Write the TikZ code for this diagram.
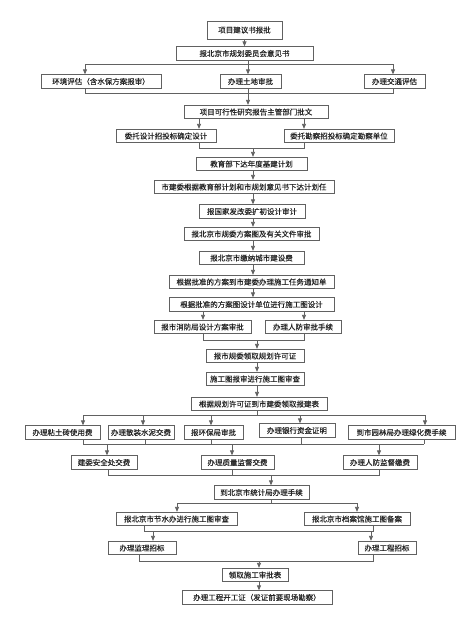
\documentclass[tikz,border=0pt]{standalone}
\usepackage{fontspec}
\newfontfamily\cjk[FakeBold=0.35]{Noto Sans CJK SC}
\usetikzlibrary{arrows.meta}
\begin{document}
\begin{tikzpicture}[x=1pt,y=-1pt,
  box/.style={draw=black!62, line width=0.8pt, fill=white, inner sep=0pt,
    minimum height=13.5pt, font=\cjk\fontsize{7.5}{8}\selectfont, text=black!85},
  ln/.style={draw=black!62, line width=0.8pt},
  arr/.style={ln, -{Triangle[width=4pt,length=5pt]}}]
\path[use as bounding box, fill=white] (0,0) rectangle (474,632);

% nodes
\node[box, minimum width=75pt, minimum height=18pt] (n1) at (244.5,30) {项目建议书报批};
\node[box, minimum width=137pt] (n2) at (244.5,53.5) {报北京市规划委员会意见书};
\node[box, minimum width=120pt] (n3a) at (101,81.5) {环境评估（含水保方案报审）};
\node[box, minimum width=61pt] (n3b) at (250.5,81.5) {办理土地审批};
\node[box, minimum width=61pt] (n3c) at (394.5,81.5) {办理交通评估};
\node[box, minimum width=144pt] (n4) at (256,112) {项目可行性研究报告主管部门批文};
\node[box, minimum width=100pt] (n5a) at (166,136) {委托设计招投标确定设计};
\node[box, minimum width=110pt] (n5b) at (339,136) {委托勘察招投标确定勘察单位};
\node[box, minimum width=111pt] (n6) at (251.5,164) {教育部下达年度基建计划};
\node[box, minimum width=180pt] (n7) at (244,187) {市建委根据教育部计划和市规划意见书下达计划任};
\node[box, minimum width=106pt] (n8) at (252,211.5) {报国家发改委扩初设计审计};
\node[box, minimum width=135pt] (n9) at (251.5,234) {报北京市规委方案图及有关文件审批};
\node[box, minimum width=105pt] (n10) at (251.5,258) {报北京市缴纳城市建设费};
\node[box, minimum width=165pt] (n11) at (251.5,282) {根据批准的方案到市建委办理施工任务通知单};
\node[box, minimum width=165pt] (n12) at (251.5,304.5) {根据批准的方案图设计单位进行施工图设计};
\node[box, minimum width=97pt] (n13a) at (202.5,327) {报市消防局设计方案审批};
\node[box, minimum width=76pt] (n13b) at (303,327) {办理人防审批手续};
\node[box, minimum width=98pt] (n14) at (255,356) {报市规委领取规划许可证};
\node[box, minimum width=98pt] (n15) at (255,379) {施工图报审进行施工图审查};
\node[box, minimum width=136pt] (n16) at (259,404) {根据规划许可证到市建委领取报建表};
\node[box, minimum width=75pt] (n17a) at (62.5,432.5) {办理粘土砖使用费};
\node[box, minimum width=66pt] (n17b) at (141,432.5) {办理散装水泥交费};
\node[box, minimum width=59pt] (n17c) at (213.5,432.5) {报环保局审批};
\node[box, minimum width=76pt] (n17d) at (297,430.5) {办理银行资金证明};
\node[box, minimum width=107pt] (n17e) at (401.5,432.5) {到市园林局办理绿化费手续};
\node[box, minimum width=66pt] (n18a) at (104,462.5) {建委安全处交费};
\node[box, minimum width=73pt] (n18b) at (237.5,462.5) {办理质量监督交费};
\node[box, minimum width=74pt] (n18c) at (380,462.5) {办理人防监督缴费};
\node[box, minimum width=95pt] (n19) at (261.5,492.5) {到北京市统计局办理手续};
\node[box, minimum width=121pt] (n20a) at (176.5,519) {报北京市节水办进行施工图审查};
\node[box, minimum width=106pt] (n20b) at (357,519) {报北京市档案馆施工图备案};
\node[box, minimum width=68pt] (n21a) at (142,548) {办理监理招标};
\node[box, minimum width=58pt] (n21b) at (387,548) {办理工程招标};
\node[box, minimum width=66pt] (n22) at (255,575) {领取施工审批表};
\node[box, minimum width=150pt] (n23) at (257,597.5) {办理工程开工证（发证前要现场勘察）};

% n1 -> n2
\draw[arr] (n1.south) -- (n2.north);

% bus 1
\coordinate (b1) at (248,64);
\coordinate (b1l) at (85,64);
\coordinate (b1r) at (393,64);
\draw[ln] (n2.south -| b1) -- (b1);
\draw[ln] (b1l) -- (b1r);
\draw[arr] (b1l) -- (b1l |- n3a.north);
\draw[arr] (b1) -- (b1 |- n3b.north);
\draw[arr] (b1r) -- (b1r |- n3c.north);

% bus 2
\coordinate (b2) at (248,93);
\coordinate (b2l) at (85,93);
\coordinate (b2r) at (393,93);
\draw[ln] (n3a.south -| b2l) -- (b2l) -- (b2r) -- (n3c.south -| b2r);
\draw[ln] (n3b.south -| b2) -- (b2);
\draw[arr] (b2) -- (b2 |- n4.north);

% n4 -> n5
\coordinate (c5l) at (199,0);
\coordinate (c5r) at (304,0);
\draw[arr] (n4.south -| c5l) -- (n5a.north -| c5l);
\draw[arr] (n4.south -| c5r) -- (n5b.north -| c5r);

% bus 3
\coordinate (b3l) at (199,148);
\coordinate (b3r) at (304,148);
\coordinate (b3) at (253,148);
\draw[ln] (n5a.south -| b3l) -- (b3l) -- (b3r) -- (n5b.south -| b3r);
\draw[arr] (b3) -- (b3 |- n6.north);

% chain
\coordinate (c253) at (253,0);
\foreach \a/\b in {n6/n7,n7/n8,n8/n9,n9/n10,n10/n11,n11/n12}
  \draw[arr] (\a.south -| c253) -- (\b.north -| c253);

% n12 -> n13
\coordinate (c13l) at (203,0);
\coordinate (c13r) at (304,0);
\draw[arr] (n12.south -| c13l) -- (n13a.north -| c13l);
\draw[arr] (n12.south -| c13r) -- (n13b.north -| c13r);

% bus 4
\coordinate (b4l) at (203,340);
\coordinate (b4r) at (304,340);
\coordinate (b4) at (257,340);
\draw[ln] (n13a.south -| b4l) -- (b4l) -- (b4r) -- (n13b.south -| b4r);
\draw[arr] (b4) -- (b4 |- n14.north);

\coordinate (c257) at (257,0);
\draw[arr] (n14.south -| c257) -- (n15.north -| c257);
\draw[arr] (n15.south -| c257) -- (n16.north -| c257);

% bus 5
\coordinate (b5) at (257,415);
\coordinate (b5a) at (83,415);
\coordinate (b5b) at (143,415);
\coordinate (b5c) at (211,415);
\coordinate (b5d) at (300,415);
\coordinate (b5e) at (425,415);
\draw[ln] (n16.south -| b5) -- (b5);
\draw[ln] (b5a) -- (b5e);
\draw[arr] (b5a) -- (b5a |- n17a.north);
\draw[arr] (b5b) -- (b5b |- n17b.north);
\draw[arr] (b5c) -- (b5c |- n17c.north);
\draw[arr] (b5d) -- (b5d |- n17d.north);
\draw[arr] (b5e) -- (b5e |- n17e.north);

% bus 6
\coordinate (b6a) at (83,444);
\coordinate (b6b) at (145,444);
\coordinate (b6c) at (211,444);
\coordinate (b6d) at (301,444);
\coordinate (b6e) at (424,444);
\coordinate (b6x) at (107,444);
\coordinate (b6y) at (232,444);
\coordinate (b6z) at (379,444);
\draw[ln] (b6a) -- (b6e);
\draw[ln] (n17a.south -| b6a) -- (b6a);
\draw[ln] (n17b.south -| b6b) -- (b6b);
\draw[ln] (n17c.south -| b6c) -- (b6c);
\draw[ln] (n17d.south -| b6d) -- (b6d);
\draw[ln] (n17e.south -| b6e) -- (b6e);
\draw[arr] (b6x) -- (b6x |- n18a.north);
\draw[arr] (b6y) -- (b6y |- n18b.north);
\draw[arr] (b6z) -- (b6z |- n18c.north);

% bus 7
\coordinate (b7a) at (108,475);
\coordinate (b7b) at (232,475);
\coordinate (b7c) at (379,475);
\coordinate (b7) at (271,475);
\draw[ln] (n18a.south -| b7a) -- (b7a) -- (b7c) -- (n18c.south -| b7c);
\draw[ln] (n18b.south -| b7b) -- (b7b);
\draw[arr] (b7) -- (b7 |- n19.north);

% bus 8
\coordinate (b8) at (271,503);
\coordinate (b8l) at (177,503);
\coordinate (b8r) at (357,503);
\draw[ln] (n19.south -| b8) -- (b8);
\draw[ln] (b8l) -- (b8r);
\draw[arr] (b8l) -- (b8l |- n20a.north);
\draw[arr] (b8r) -- (b8r |- n20b.north);

% bus 9
\coordinate (b9l) at (144,531);
\coordinate (b9r) at (373,531);
\coordinate (b9x) at (153,531);
\coordinate (b9y) at (371,531);
\draw[ln] (n20a.south -| b9l) -- (b9l) -- (b9r) -- (n20b.south -| b9r);
\draw[arr] (b9x) -- (b9x |- n21a.north);
\draw[arr] (b9y) -- (b9y |- n21b.north);

% bus 10
\coordinate (b10l) at (139,561);
\coordinate (b10r) at (373,561);
\coordinate (b10) at (259,561);
\draw[ln] (n21a.south -| b10l) -- (b10l) -- (b10r) -- (n21b.south -| b10r);
\draw[arr] (b10) -- (b10 |- n22.north);

\coordinate (c259) at (259,0);
\draw[arr] (n22.south -| c259) -- (n23.north -| c259);
\end{tikzpicture}
\end{document}
